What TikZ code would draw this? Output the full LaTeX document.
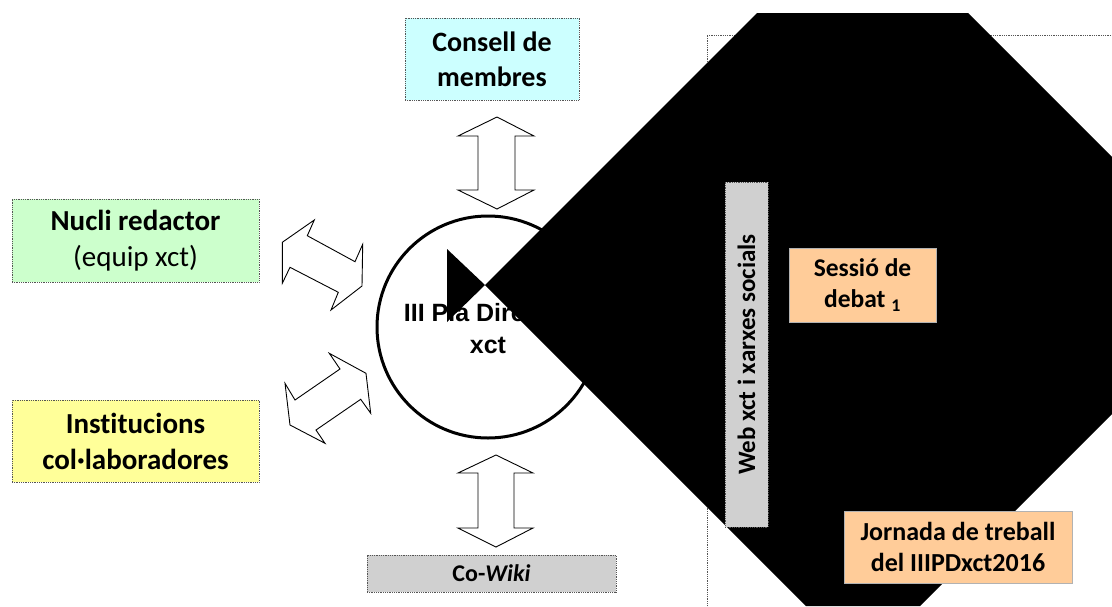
\documentclass[tikz,border=0pt]{standalone}
\usepackage{fontspec}
\setmainfont{Carlito}[Ligatures=NoCommon]
\newfontfamily\arialfont{Liberation Sans}
\usetikzlibrary{shapes.geometric}
\definecolor{cyanbox}{HTML}{CCFFFF}
\definecolor{greenbox}{HTML}{CCFFCC}
\definecolor{yellowbox}{HTML}{FFFF99}
\definecolor{peach}{HTML}{FFCC99}
\definecolor{grey1}{HTML}{D0D0D0}
\definecolor{dotline}{HTML}{555555}
\tikzset{
  dotbox/.style={draw=dotline, densely dotted, line width=0.8pt, align=center, inner sep=0pt, font=\bfseries\fontsize{29}{36}\selectfont},
  peachbox/.style={draw=gray!60, fill=peach, line width=0.6pt, align=center, inner sep=0pt, font=\bfseries\fontsize{25.5}{31}\selectfont},
  blockarrow/.style={draw=black, fill=white, line width=0.9pt, line join=miter},
}
\begin{document}
\begin{tikzpicture}[x=1pt,y=-1pt]
\useasboundingbox (0,0) rectangle (1112,606);
\fill[white] (0,0) rectangle (1112,606);

% outer dotted frame (behind)
\draw[dotline, densely dotted, line width=0.8pt] (1120,35) -- (707,35) -- (707,615);

% centre circle
\node[circle, draw=black, line width=3pt, minimum size=222pt, inner sep=0pt] (centre) at (488,327) {};
\node[align=center, font=\arialfont\bfseries\fontsize{25}{32}\selectfont] (centretext) at (488,329) {III Pla Director\\xct};

% black shapes over the circle text
\fill[black] (447,249) -- (485,285) -- (447,322) -- cycle;
\fill[black] (757,13) -- (968,13) -- (1112,157) -- (1112,414) -- (920,606) -- (806,606) -- (485,285) -- cycle;

% boxes
\node[dotbox, fill=cyanbox, minimum width=174pt, minimum height=82pt, font=\bfseries\fontsize{28}{35}\selectfont] (consell) at (492,59) {Consell de\\membres};
\node[dotbox, fill=greenbox, minimum width=247pt, minimum height=83pt] (nucli) at (135.5,240.5) {Nucli redactor\\\mdseries(equip xct)};
\node[dotbox, fill=yellowbox, minimum width=247pt, minimum height=82pt] (inst) at (135.5,441) {Institucions\\col·laboradores};
\node[dotbox, fill=grey1, minimum width=249pt, minimum height=37pt, font=\bfseries\fontsize{24}{28}\selectfont] (wiki) at (491.5,573.5) {Co-\textit{Wiki}};
\node[dotbox, fill=grey1, minimum width=43pt, minimum height=345pt] (web) at (746.5,354.5) {};
\node[rotate=90, font=\bfseries\fontsize{25}{30}\selectfont] (webtext) at (web.center) {Web xct i xarxes socials};
\node[peachbox, minimum width=147pt, minimum height=74pt] (sessio) at (862.5,285) {Sessió de\\debat \textsubscript{1}};
\node[peachbox, minimum width=228pt, minimum height=72pt, font=\bfseries\fontsize{26}{31}\selectfont] (jornada) at (958,547) {Jornada de treball\\del IIIPDxct2016};

% block arrows
\draw[blockarrow] (497,117) -- (534,136) -- (515,136) -- (515,190) -- (534,190) -- (497,209) -- (458,190) -- (478,190) -- (478,136) -- (458,136) -- cycle;
\draw[blockarrow] (496,455) -- (533,473) -- (514,473) -- (514,528) -- (533,528) -- (496,547) -- (458,528) -- (478,528) -- (478,473) -- (458,473) -- cycle;
\draw[blockarrow] (314.3,220) -- (307.3,235.7) -- (355,261.7) -- (362.7,244.3) -- (362,286) -- (331,310) -- (338.3,292.3) -- (290,267.3) -- (282.3,283.3) -- (282.3,242.3) -- cycle;
\draw[blockarrow] (329.3,353.3) -- (340,369) -- (295,400) -- (285,383.3) -- (290,425) -- (325,443.3) -- (316,430) -- (360.7,399.3) -- (370.7,413.3) -- (366,373.3) -- cycle;
\end{tikzpicture}
\end{document}
